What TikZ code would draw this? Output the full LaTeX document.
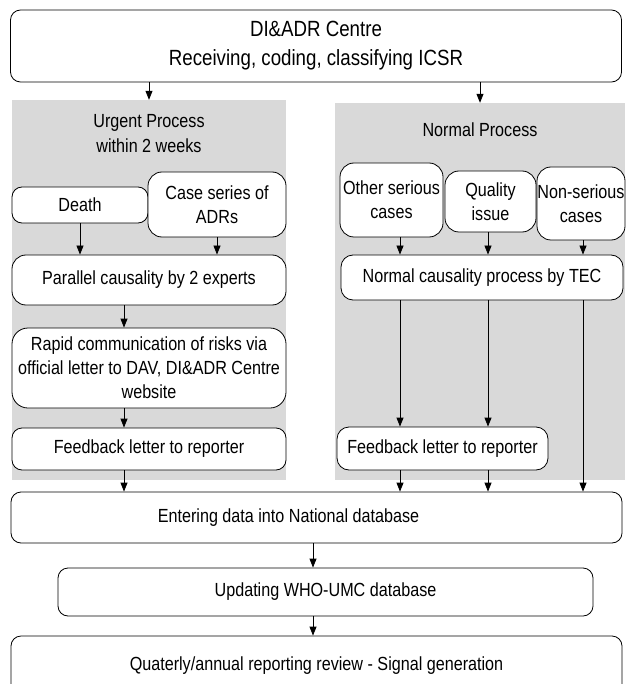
\documentclass[tikz,border=0pt]{standalone}
\usepackage{fontspec}
\setmainfont{Liberation Sans}[FakeStretch=0.85]
\usetikzlibrary{arrows.meta}

\begin{document}
\begin{tikzpicture}[x=1pt, y=-1pt,
    box/.style={draw, rounded corners=10pt, fill=white, align=center, inner sep=0pt,
                line width=0.8pt, font=\fontsize{19}{24}\selectfont},
    panel/.style={fill=black!15, inner sep=0pt},
    arr/.style={-{Triangle[length=9pt,width=7pt]}, line width=0.8pt}]
  \useasboundingbox (0,0) rectangle (625,684);

  \node[panel, minimum width=274, minimum height=380] (urgent) at (149,290) {};
  \node[panel, minimum width=290, minimum height=377] (normal) at (480,291.5) {};

  \node[box, minimum width=611, minimum height=72, font=\fontsize{22}{29}\selectfont] (centre) at (316,46)
        {DI\&ADR Centre\\Receiving, coding, classifying ICSR};

  \node[align=center, font=\fontsize{19}{25}\selectfont] (urgentlbl) at (149,134) {Urgent Process\\within 2 weeks};
  \node[font=\fontsize{19}{25}\selectfont] (normallbl) at (480,130) {Normal Process};

  \node[box, minimum width=136, minimum height=36] (death) at (80,205) {Death};
  \node[box, minimum width=138, minimum height=65, rounded corners=14pt] (caseser) at (217,204.5) {Case series of\\ADRs};
  \node[box, minimum width=274, minimum height=50, rounded corners=14pt] (parallel) at (149,280) {Parallel causality by 2 experts};
  \node[box, minimum width=274, minimum height=80, rounded corners=16pt] (rapid) at (149,368)
        {Rapid communication of risks via\\official letter to DAV, DI\&ADR Centre\\website};
  \node[box, minimum width=274, minimum height=42] (fbleft) at (149,449) {Feedback letter to reporter};

  \node[box, minimum width=103, minimum height=74, rounded corners=14pt] (other) at (391.5,200) {Other serious\\cases};
  \node[box, minimum width=91, minimum height=61, rounded corners=14pt] (quality) at (490.5,201.5) {Quality\\issue};
  \node[box, minimum width=88, minimum height=73, rounded corners=14pt] (nonser) at (581,203.5) {Non-serious\\cases};
  \node[box, minimum width=282, minimum height=45, rounded corners=12pt] (normcaus) at (482,277.5) {Normal causality process by TEC};
  \node[box, minimum width=211, minimum height=43, rounded corners=12pt] (fbright) at (442.5,448.5) {Feedback letter to reporter};

  \node[box, minimum width=611, minimum height=51,
        label={[xshift=-28pt, font=\fontsize{19}{24}\selectfont]center:Entering data into National database}] (entering) at (316.5,517.5) {};
  \node[box, minimum width=535, minimum height=48] (updating) at (325.5,592) {Updating WHO-UMC database};
  \node[box, minimum width=611, minimum height=60] (review) at (316.5,666)
        {Quaterly/annual reporting review - Signal generation};

  \coordinate (lcol) at (124,0);
  \coordinate (mcol) at (313,0);
  \coordinate (colA) at (400,0);
  \coordinate (colB) at (488,0);
  \coordinate (colC) at (583,0);

  \draw[arr] (centre.south -| urgent.north) -- (urgent.north);
  \draw[arr] (centre.south -| normal.north) -- (normal.north);

  \draw[arr] (death.south) -- (death.south |- parallel.north);
  \draw[arr] (caseser.south) -- (caseser.south |- parallel.north);
  \draw[arr] (parallel.south -| lcol) -- (rapid.north -| lcol);
  \draw[arr] (rapid.south -| lcol) -- (fbleft.north -| lcol);
  \draw[arr] (fbleft.south -| lcol) -- (entering.north -| lcol);

  \foreach \c/\s in {colA/other, colB/quality, colC/nonser}
    \draw[arr] (\s.south -| \c) -- (normcaus.north -| \c);
  \foreach \c in {colA, colB}
    {
      \draw[arr] (normcaus.south -| \c) -- (fbright.north -| \c);
      \draw[arr] (fbright.south -| \c) -- (entering.north -| \c);
    }
  \draw[arr] (normcaus.south -| colC) -- (entering.north -| colC);

  \draw[arr] (entering.south -| mcol) -- (updating.north -| mcol);
  \draw[arr] (updating.south -| mcol) -- (review.north -| mcol);
\end{tikzpicture}
\end{document}
